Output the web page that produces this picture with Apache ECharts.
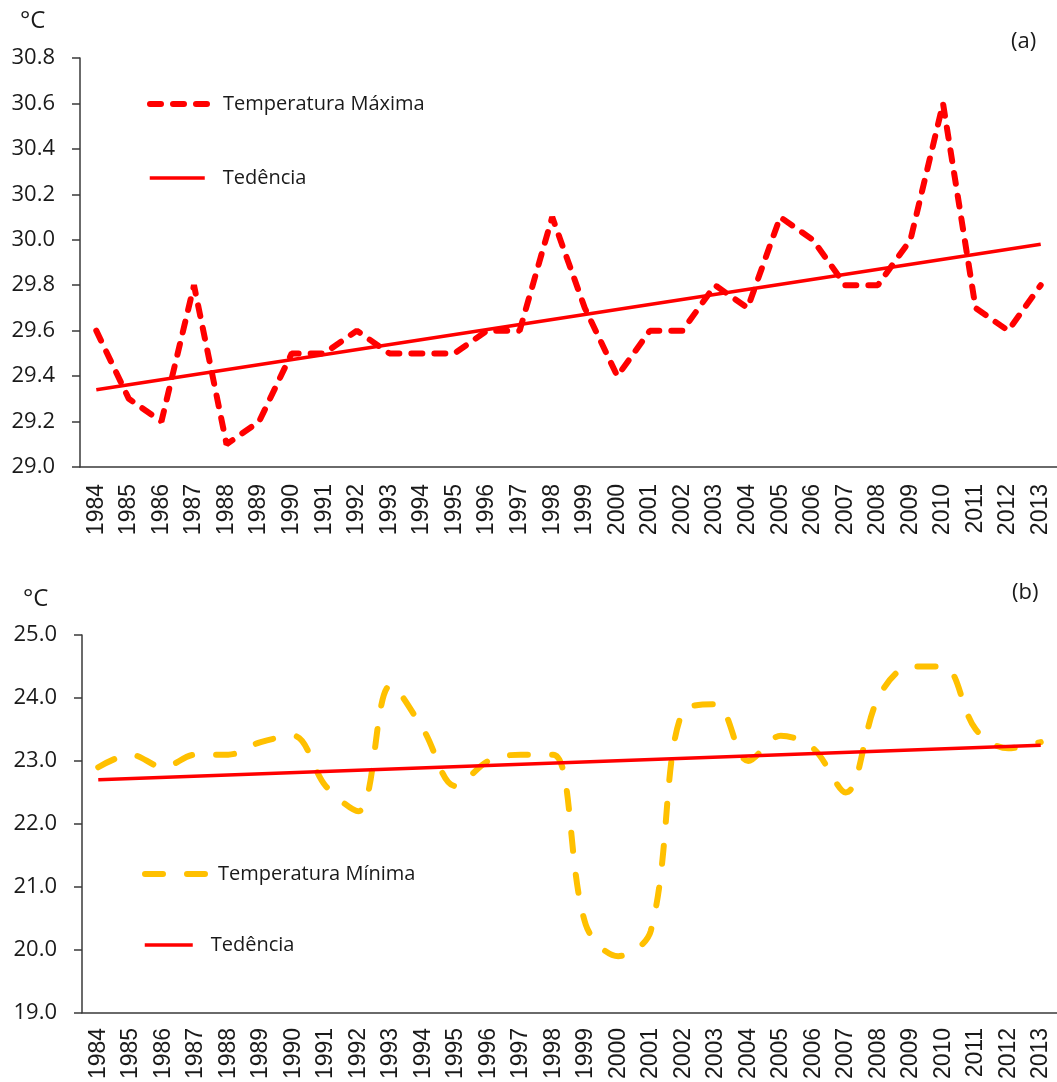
<!DOCTYPE html>
<html>
<head>
<meta charset="utf-8">
<script src="https://cdn.jsdelivr.net/npm/echarts@6/dist/echarts.min.js"></script>
<style>
  html, body { margin: 0; padding: 0; background: #fff; }
  #chart { width: 1057px; height: 1082px; }
</style>
</head>
<body>
<div id="chart"></div>
<script>
// anos 1984–2013
const years = [
  "1984", "1985", "1986", "1987", "1988", "1989", "1990", "1991", "1992", "1993",
  "1994", "1995", "1996", "1997", "1998", "1999", "2000", "2001", "2002", "2003",
  "2004", "2005", "2006", "2007", "2008", "2009", "2010", "2011", "2012", "2013"
];

// (a) temperatura máxima, °C
const tempMax = [
  29.6, 29.3, 29.2, 29.8, 29.1, 29.2, 29.5, 29.5, 29.6, 29.5,
  29.5, 29.5, 29.6, 29.6, 30.1, 29.7, 29.4, 29.6, 29.6, 29.8,
  29.7, 30.1, 30.0, 29.8, 29.8, 30.0, 30.6, 29.7, 29.6, 29.8
];
const trendMax = [["1984", 29.34], ["2013", 29.98]];

// (b) temperatura mínima, °C
const tempMin = [
  22.9, 23.1, 22.9, 23.1, 23.1, 23.3, 23.4, 22.6, 22.2, 24.2,
  23.5, 22.6, 23.0, 23.1, 23.1, 20.4, 19.9, 20.3, 23.8, 23.9,
  23.0, 23.4, 23.2, 22.5, 24.0, 24.5, 24.5, 23.5, 23.2, 23.3
];
const trendMin = [["1984", 22.7], ["2013", 23.25]];

const AXIS = "#3a3a3a";
const TXT = "#1a1a1a";
const FONT = "'Open Sans', 'Noto Sans', sans-serif";

const chart = echarts.init(document.getElementById("chart"), null, { renderer: "canvas" });

function xAxisFor(gridIndex, margin) {
  return {
    type: "category",
    gridIndex,
    data: years,
    boundaryGap: true,
    axisLine: { lineStyle: { color: AXIS, width: 1.5 } },
    axisTick: { length: 7, lineStyle: { color: AXIS, width: 1.5 } },
    axisLabel: {
      rotate: 90,
      interval: 0,
      margin,
      color: TXT,
      fontSize: 23,
      fontFamily: "'Liberation Sans', Arial, sans-serif"
    }
  };
}

function yAxisFor(gridIndex, min, max, interval) {
  return {
    type: "value",
    gridIndex,
    min, max, interval,
    splitLine: { show: false },
    axisLine: { show: true, lineStyle: { color: AXIS, width: 1.5 } },
    axisTick: { show: true, length: 8, lineStyle: { color: AXIS, width: 1.5 } },
    axisLabel: {
      color: TXT,
      fontSize: 22,
      fontFamily: FONT,
      margin: 25,
      formatter: v => v.toFixed(1)
    }
  };
}

// legenda de um item só, posta dentro da área do gráfico
function legendAt(name, left, centerY, width, lineWidth, textPad) {
  return {
    data: [name],
    left,
    top: centerY - 7,
    padding: 0,
    itemWidth: width,
    itemHeight: 14,
    selectedMode: false,
    itemStyle: { color: "rgba(0,0,0,0)", borderWidth: 0, opacity: 0 },
    lineStyle: { width: lineWidth },
    textStyle: {
      fontSize: 20,
      fontFamily: FONT,
      color: TXT,
      padding: [0, 0, 0, textPad]
    }
  };
}

chart.setOption({
  animation: false,
  backgroundColor: "#fff",
  grid: [
    { left: 80, right: -4, top: 58, height: 409 },
    { left: 82, right: -4, top: 635, height: 382 }
  ],
  xAxis: [xAxisFor(0, 17), xAxisFor(1, 15)],
  yAxis: [yAxisFor(0, 29.0, 30.8, 0.2), yAxisFor(1, 19, 25, 1)],
  legend: [
    legendAt("Temperatura Máxima", 147, 101, 68, 6, 0),
    legendAt("Tedência", 148, 175, 55, 3.5, 13),
    legendAt("Temperatura Mínima", 142, 871, 68, 6, 0),
    legendAt("Tedência ", 143, 942, 48, 3.5, 13)
  ],
  graphic: [
    { type: "text", left: 20, top: 9, style: { text: "°C", fontSize: 24, fontFamily: FONT, fill: TXT } },
    { type: "text", left: 1011, top: 31, style: { text: "(a)", fontSize: 22, fontFamily: FONT, fill: TXT } },
    { type: "text", left: 23, top: 587, style: { text: "°C", fontSize: 24, fontFamily: FONT, fill: TXT } },
    { type: "text", left: 1012, top: 582, style: { text: "(b)", fontSize: 22, fontFamily: FONT, fill: TXT } }
  ],
  series: [
    {
      name: "Temperatura Máxima",
      type: "line",
      xAxisIndex: 0, yAxisIndex: 0,
      data: tempMax,
      symbol: "none",
      smooth: false,
      lineStyle: { color: "#ff0000", width: 6, type: [11, 12], cap: "round" },
      itemStyle: { color: "#ff0000" },
      z: 3
    },
    {
      name: "Tedência",
      type: "line",
      xAxisIndex: 0, yAxisIndex: 0,
      data: trendMax,
      symbol: "none",
      lineStyle: { color: "#ff0000", width: 3.5 },
      itemStyle: { color: "#ff0000" },
      z: 4
    },
    {
      name: "Temperatura Mínima",
      type: "line",
      xAxisIndex: 1, yAxisIndex: 1,
      data: tempMin,
      symbol: "none",
      smooth: 0.35,
      lineStyle: { color: "#ffc000", width: 6, type: [18, 24], cap: "round" },
      itemStyle: { color: "#ffc000" },
      z: 3
    },
    {
      name: "Tedência ",
      type: "line",
      xAxisIndex: 1, yAxisIndex: 1,
      data: trendMin,
      symbol: "none",
      lineStyle: { color: "#ff0000", width: 3.5 },
      itemStyle: { color: "#ff0000" },
      z: 4
    }
  ]
});
</script>
</body>
</html>
